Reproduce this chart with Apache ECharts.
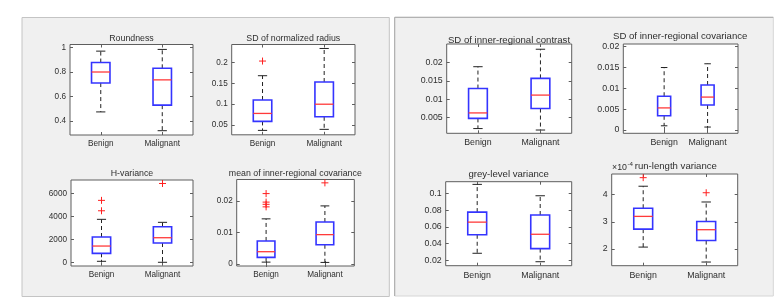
<!DOCTYPE html>
<html>
<head>
<meta charset="utf-8">
<script src="https://cdn.jsdelivr.net/npm/echarts@6/dist/echarts.min.js"></script>
<style>
html,body{margin:0;padding:0;background:#fff;}
#c{width:782px;height:303px;}
</style>
</head>
<body>
<div id="c"></div>
<script>
// ---------- DATA ----------
const categories = ['Benign', 'Malignant'];
const titles = ['Roundness', 'SD of normalized radius', 'H-variance', 'mean of inner-regional covariance',
  'SD of inner-regional contrast', 'SD of inner-regional covariance', 'grey-level variance', 'run-length variance'];

// each box: [lower whisker, Q1, median, Q3, upper whisker]
const roundnessBox = [[0.475, 0.71, 0.80, 0.877, 0.970], [0.322, 0.53, 0.736, 0.83, 0.984]];
const roundnessOut = [[], []];
const roundnessTicks = [0.4, 0.6, 0.8, 1];

const radiusSdBox = [[0.0375, 0.059, 0.078, 0.110, 0.168], [0.040, 0.070, 0.100, 0.153, 0.233]];
const radiusSdOut = [[0.203], []];
const radiusSdTicks = [0.05, 0.1, 0.15, 0.2];

const hVarBox = [[120, 810, 1440, 2220, 3750], [35, 1700, 2160, 3110, 3490]];
const hVarOut = [[4490, 5390], [6850]];
const hVarTicks = [0, 2000, 4000, 6000];

const meanCovBox = [[0.0006, 0.0021, 0.0039, 0.0073, 0.0143], [0.0005, 0.0061, 0.0093, 0.0133, 0.0184]];
const meanCovOut = [[0.0181, 0.0189, 0.0196, 0.0223], [0.0257]];
const meanCovTicks = [0, 0.01, 0.02];

const contrastSdBox = [[0.0019, 0.0047, 0.0062, 0.0129, 0.0189], [0.0015, 0.0074, 0.0111, 0.0157, 0.0237]];
const contrastSdOut = [[], []];
const contrastSdTicks = [0.005, 0.01, 0.015, 0.02];

const covSdBox = [[0.0010, 0.0034, 0.0053, 0.0081, 0.0150], [0.0007, 0.0060, 0.0079, 0.0108, 0.0159]];
const covSdOut = [[], []];
const covSdTicks = [0, 0.005, 0.01, 0.015, 0.02];

const greyVarBox = [[0.0284, 0.0505, 0.0656, 0.0776, 0.1107], [0.0183, 0.034, 0.0511, 0.0741, 0.0971]];
const greyVarOut = [[], []];
const greyVarTicks = [0.02, 0.04, 0.06, 0.08, 0.1];

// values in units of 1e-4
const runLenVarBox = [[2.07, 2.73, 3.20, 3.50, 4.31], [1.52, 2.31, 2.71, 3.01, 3.73]];
const runLenVarOut = [[4.625], [4.07]];
const runLenVarTicks = [2, 3, 4];

const boxes = [roundnessBox, radiusSdBox, hVarBox, meanCovBox, contrastSdBox, covSdBox, greyVarBox, runLenVarBox];
const outliers = [roundnessOut, radiusSdOut, hVarOut, meanCovOut, contrastSdOut, covSdOut, greyVarOut, runLenVarOut];
const ticks = [roundnessTicks, radiusSdTicks, hVarTicks, meanCovTicks, contrastSdTicks, covSdTicks, greyVarTicks, runLenVarTicks];

// ---------- LAYOUT ----------
const FONT = '"Liberation Sans", Arial, Helvetica, sans-serif';
const layout = [
  {g: [70, 44.5, 123, 90.5], x: [0.5, 2.5], y: [0.287, 1.024], fs: 8.2, tfs: 8.8, t: [131.5, 39]},
  {g: [231.7, 44.5, 123.3, 90.3], x: [0.5, 2.5], y: [0.027, 0.2425], fs: 8.2, tfs: 8.8, t: [293.3, 38.7]},
  {g: [71, 180, 122, 86], x: [0.5, 2.5], y: [-286, 7152], fs: 8.2, tfs: 8.8, t: [132, 173.3]},
  {g: [236.7, 179.5, 117.6, 86.5], x: [0.5, 2.5], y: [-0.00063, 0.02676], fs: 8.2, tfs: 8.8, t: [295.3, 173.3]},
  {g: [446.7, 44, 125, 89.3], x: [0.5, 2.5], y: [0.0006, 0.02514], fs: 8.8, tfs: 9.6, t: [509, 40]},
  {g: [623.3, 44, 114.7, 89.3], x: [0.06, 2.70], y: [-0.0008, 0.02065], fs: 8.8, tfs: 9.6, t: [680.2, 36]},
  {g: [445.7, 181.7, 126, 84], x: [0.5, 2.5], y: [0.01355, 0.1139], fs: 8.8, tfs: 9.6, t: [508.7, 174.7]},
  {g: [611.7, 174, 126, 91.7], x: [0.5, 2.5], y: [1.385, 4.76], fs: 8.8, tfs: 9.6, t: [675.8, 166.7]}
];

const fmt = v => String(+Number(v).toPrecision(6));
const AXIS_COLOR = '#5e5e5e';
const TEXT_COLOR = '#2e2e2e';

function renderBox(params, api) {
  const x = api.value(0);
  const lo = api.coord([x, api.value(1)]);
  const q1 = api.coord([x, api.value(2)]);
  const md = api.coord([x, api.value(3)]);
  const q3 = api.coord([x, api.value(4)]);
  const hi = api.coord([x, api.value(5)]);
  const w = api.size([0.3, 0])[0];
  const cw = api.size([0.15, 0])[0];
  const cx = lo[0];
  const dash = {stroke: '#222', lineWidth: 1, lineDash: [4, 3]};
  const solid = {stroke: '#222', lineWidth: 1};
  return {
    type: 'group',
    children: [
      {type: 'line', shape: {x1: cx, y1: q3[1], x2: cx, y2: hi[1]}, style: dash},
      {type: 'line', shape: {x1: cx, y1: q1[1], x2: cx, y2: lo[1]}, style: dash},
      {type: 'line', shape: {x1: cx - cw / 2, y1: hi[1], x2: cx + cw / 2, y2: hi[1]}, style: solid},
      {type: 'line', shape: {x1: cx - cw / 2, y1: lo[1], x2: cx + cw / 2, y2: lo[1]}, style: solid},
      {type: 'rect', shape: {x: cx - w / 2, y: q3[1], width: w, height: q1[1] - q3[1]},
        style: {fill: 'none', stroke: '#3434ff', lineWidth: 1.6}},
      {type: 'line', shape: {x1: cx - w / 2, y1: md[1], x2: cx + w / 2, y2: md[1]},
        style: {stroke: '#ff3a3a', lineWidth: 1.3}}
    ]
  };
}

function renderPlus(params, api) {
  const p = api.coord([api.value(0), api.value(1)]);
  const s = 3.5;
  const st = {stroke: '#ff2020', lineWidth: 1};
  return {
    type: 'group',
    children: [
      {type: 'line', shape: {x1: p[0] - s, y1: p[1], x2: p[0] + s, y2: p[1]}, style: st},
      {type: 'line', shape: {x1: p[0], y1: p[1] - s, x2: p[0], y2: p[1] + s}, style: st}
    ]
  };
}

const grids = [], xAxes = [], yAxes = [], series = [];
layout.forEach((L, i) => {
  grids.push({left: L.g[0], top: L.g[1], width: L.g[2], height: L.g[3], show: true,
    backgroundColor: '#ffffff', borderColor: AXIS_COLOR, borderWidth: 1});
  const xBase = {gridIndex: i, type: 'value', min: L.x[0], max: L.x[1], splitLine: {show: false},
    axisLine: {show: false}};
  xAxes.push(Object.assign({}, xBase, {
    position: 'bottom',
    axisTick: {show: true, inside: true, length: 3, customValues: [1, 2], lineStyle: {color: AXIS_COLOR}},
    axisLabel: {show: true, customValues: [1, 2], formatter: v => categories[Math.round(v) - 1] || '',
      margin: 5, fontSize: L.fs, fontFamily: FONT, color: TEXT_COLOR}
  }));
  xAxes.push(Object.assign({}, xBase, {
    position: 'top',
    axisTick: {show: true, inside: true, length: 3, customValues: [1, 2], lineStyle: {color: AXIS_COLOR}},
    axisLabel: {show: false}
  }));
  const yBase = {gridIndex: i, type: 'value', min: L.y[0], max: L.y[1], splitLine: {show: false},
    axisLine: {show: false}};
  yAxes.push(Object.assign({}, yBase, {
    position: 'left',
    axisTick: {show: true, inside: true, length: 3, customValues: ticks[i], lineStyle: {color: AXIS_COLOR}},
    axisLabel: {show: true, customValues: ticks[i], formatter: fmt, margin: 4,
      fontSize: L.fs, fontFamily: FONT, color: TEXT_COLOR}
  }));
  yAxes.push(Object.assign({}, yBase, {
    position: 'right',
    axisTick: {show: true, inside: true, length: 3, customValues: ticks[i], lineStyle: {color: AXIS_COLOR}},
    axisLabel: {show: false}
  }));
  series.push({
    type: 'custom', xAxisIndex: 2 * i, yAxisIndex: 2 * i, renderItem: renderBox,
    encode: {x: 0, y: [1, 2, 3, 4, 5]},
    data: boxes[i].map((b, k) => [k + 1].concat(b)), z: 3
  });
  const outData = [];
  outliers[i].forEach((arr, k) => arr.forEach(v => outData.push([k + 1, v])));
  series.push({
    type: 'custom', xAxisIndex: 2 * i, yAxisIndex: 2 * i, renderItem: renderPlus,
    encode: {x: 0, y: 1}, data: outData, z: 4
  });
});

function txt(str, x, y, size, align) {
  return {type: 'text', x: x, y: y, z: 10,
    style: {text: str, fill: TEXT_COLOR, fontSize: size, fontFamily: FONT,
      align: align || 'center', verticalAlign: 'middle',
      textAlign: align || 'center', textVerticalAlign: 'middle'}};
}

const graphics = [
  {type: 'rect', z: -10, shape: {x: 22, y: 17.5, width: 367.3, height: 279},
    style: {fill: '#f0f0f0', stroke: '#c4c4c4', lineWidth: 1}},
  {type: 'rect', z: -10, shape: {x: 394.7, y: 17.3, width: 378.6, height: 278.7},
    style: {fill: '#f0f0f0', stroke: '#d6d6d6', lineWidth: 1}},
  {type: 'polyline', z: -9, shape: {points: [[394.7, 296], [394.7, 17.3], [773.3, 17.3]]},
    style: {stroke: '#a8a8a8', lineWidth: 1, fill: null}}
];
layout.forEach((L, i) => graphics.push(txt(titles[i], L.t[0], L.t[1], L.tfs)));
// x10^-4 exponent label for run-length variance
graphics.push(txt('\u00d710', 612, 168, 8.8, 'left'));
graphics.push(txt('-4', 627.5, 164.5, 6.2, 'left'));

const chart = echarts.init(document.getElementById('c'), null, {renderer: 'canvas'});
chart.setOption({
  animation: false,
  backgroundColor: '#ffffff',
  grid: grids,
  xAxis: xAxes,
  yAxis: yAxes,
  series: series,
  graphic: graphics
});
</script>
</body>
</html>
